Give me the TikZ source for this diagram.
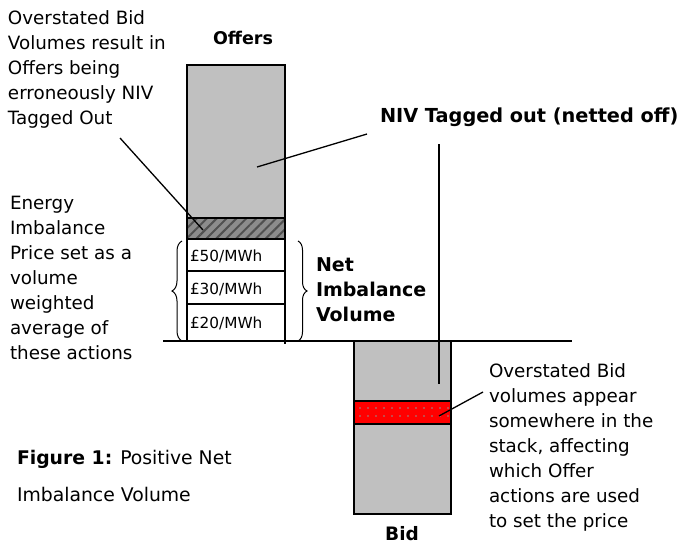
\documentclass[tikz,border=0pt]{standalone}
\usepackage{fontspec}
\setmainfont{DejaVu Sans}
\usetikzlibrary{patterns.meta,decorations.pathreplacing}
\definecolor{boxgray}{HTML}{C0C0C0}
\definecolor{hatchbase}{HTML}{8C8C8C}
\definecolor{hatchline}{HTML}{505050}
\definecolor{dotgray}{HTML}{909090}
\begin{document}
\begin{tikzpicture}[x=1pt,y=-1pt,
  stack/.style={draw=black, line width=1.6pt, inner sep=0, outer sep=0, anchor=north west},
  txt/.style={inner sep=0, outer sep=0, align=left, anchor=north west, font=\fontsize{18.3}{25}\selectfont},
  lbl/.style={inner sep=0, outer sep=0, font=\fontsize{18.5}{25}\selectfont\bfseries},
  price/.style={inner sep=0, outer sep=0, anchor=west, font=\fontsize{15.3}{18}\selectfont},
  conn/.style={draw=black, line width=1.3pt},
  bracestyle/.style={draw=black, line width=1pt, decorate}
]
\useasboundingbox (0,0) rectangle (681,544);

% Offers stack
\node[stack, fill=boxgray, minimum width=98pt, minimum height=153pt] (offers) at (187,65) {};
\node[stack, minimum width=98pt, minimum height=21pt,
  preaction={fill=hatchbase},
  pattern={Lines[angle=45,distance=7pt,line width=2pt]}, pattern color=hatchline] (hatch) at (187,218) {};
\node[stack, fill=white, minimum width=98pt, minimum height=32pt] (p50) at (187,239) {};
\node[stack, fill=white, minimum width=98pt, minimum height=33pt] (p30) at (187,271) {};
\node[stack, fill=white, minimum width=98pt, minimum height=37pt] (p20) at (187,304) {};
\node[price] (t50) at (190,256) {£50/MWh};
\node[price] (t30) at (190,289) {£30/MWh};
\node[price] (t20) at (190,323) {£20/MWh};

% Bid stack
\node[stack, fill=boxgray, minimum width=97pt, minimum height=173pt] (bid) at (354,341) {};
\node[stack, minimum width=97pt, minimum height=23pt,
  preaction={fill=red},
  pattern={Dots[distance=8pt,radius=0.9pt]}, pattern color=dotgray] (band) at (354,401) {};

% baseline
\coordinate (hl) at (163,341);
\coordinate (hr) at (572,341);
\draw[line width=1.6pt] (hl) -- (hr);
\coordinate (rt) at (285,341);
\coordinate (rb) at (285,344);
\draw[line width=1.6pt] (rt) -- (rb);

% braces
\coordinate (lb1) at (182,341);
\coordinate (lb2) at (182,241);
\draw[bracestyle, decoration={brace, amplitude=10pt}] (lb1) -- (lb2);
\coordinate (rb1) at (298,241);
\coordinate (rb2) at (298,341);
\draw[bracestyle, decoration={brace, amplitude=9pt}] (rb1) -- (rb2);

% labels
\node[lbl, font=\fontsize{17.5}{25}\selectfont\bfseries] (offlbl) at (243,38) {Offers};
\node[lbl, anchor=west, font=\fontsize{19.3}{25}\selectfont\bfseries] (nivlbl) at (380,117) {NIV Tagged out (netted off)};
\node[lbl, anchor=center] (bidlbl) at (402,534) {Bid};
\node[txt, font=\fontsize{19}{25}\selectfont\bfseries] (netlbl) at (316,258) {Net\\Imbalance\\Volume};

\node[txt] (over1) at (8,11) {Overstated Bid\\Volumes result in\\Offers being\\erroneously NIV\\Tagged Out};
\node[txt] (energy) at (10,196) {Energy\\Imbalance\\Price set as a\\volume\\weighted\\average of\\these actions};
\node[txt] (over2) at (489,364) {Overstated Bid\\volumes appear\\somewhere in the\\stack, affecting\\which Offer\\actions are used\\to set the price};
\node[txt, font=\fontsize{18.8}{37}\selectfont] (fig) at (17,450) {\textbf{Figure 1:} Positive Net\\Imbalance Volume};

% connectors
\coordinate (c1a) at (120,138);
\coordinate (c1b) at (203,230);
\draw[conn] (c1a) -- (c1b);
\coordinate (c2a) at (257,167);
\coordinate (c2b) at (367,134);
\draw[conn] (c2a) -- (c2b);
\coordinate (c3a) at (439,144);
\coordinate (c3b) at (439,384);
\draw[conn] (c3a) -- (c3b);
\coordinate (c4a) at (439,416);
\coordinate (c4b) at (483,392);
\draw[conn] (c4a) -- (c4b);
\end{tikzpicture}
\end{document}
